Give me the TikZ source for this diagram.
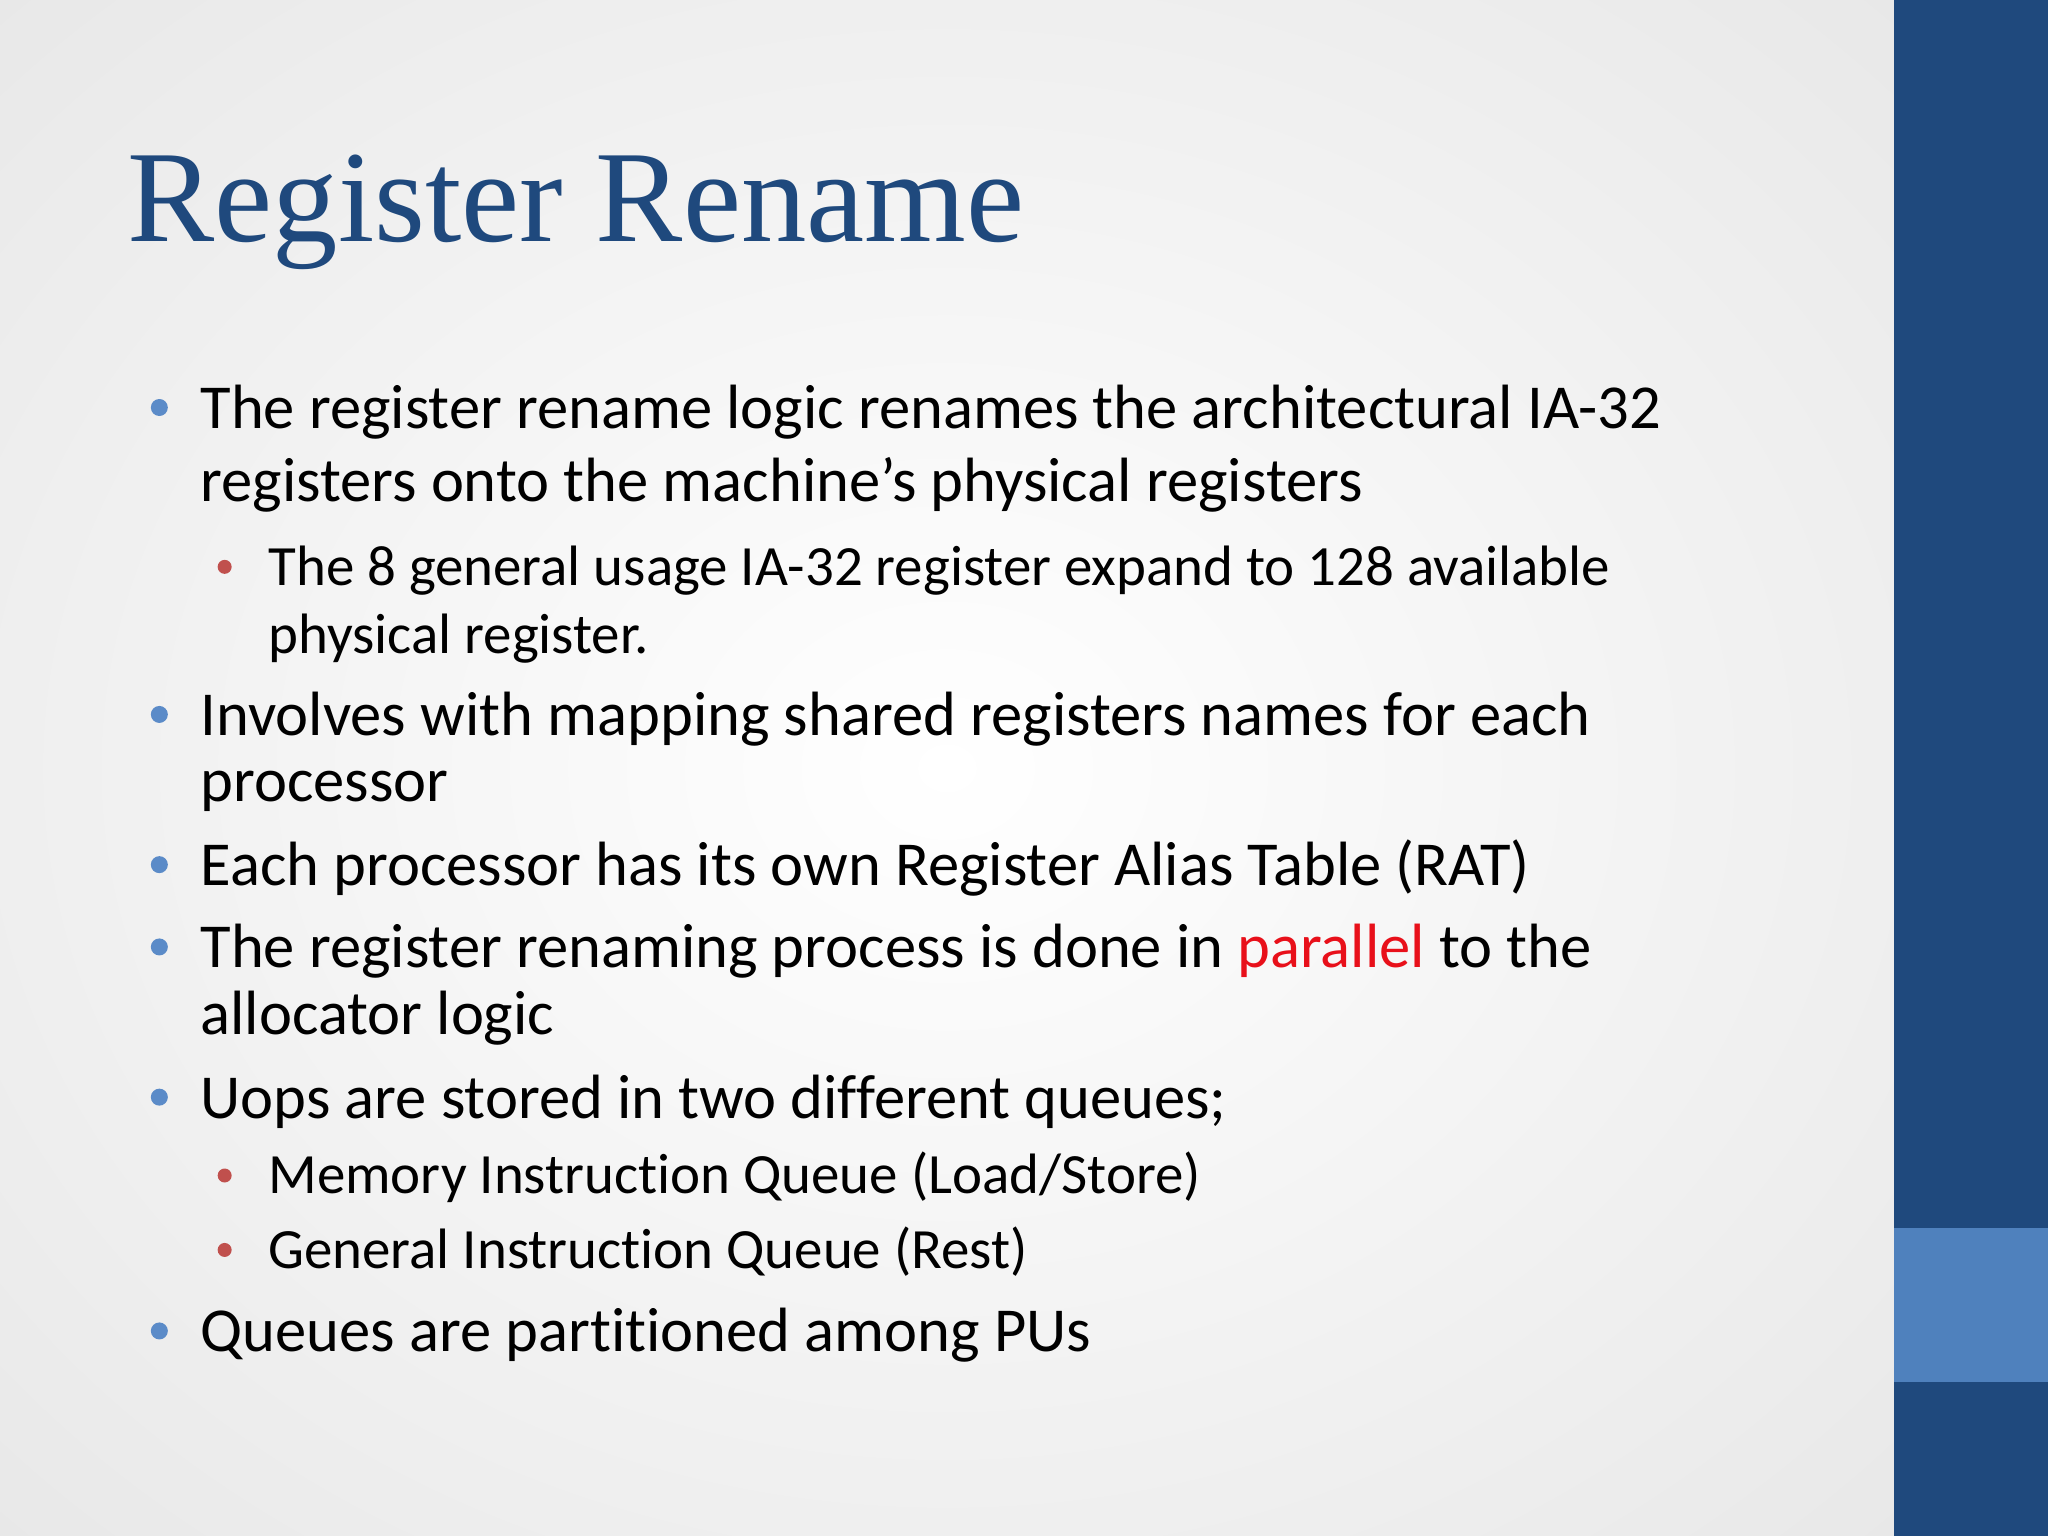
\documentclass[tikz,border=0pt]{standalone}
\usepackage{fontspec}
\setmainfont[Ligatures=NoCommon]{Carlito}
\newfontfamily\titlefont{Liberation Serif}
\definecolor{titleblue}{HTML}{1F497D}
\definecolor{bardark}{HTML}{1F497D}
\definecolor{barlight}{HTML}{4F81BD}
\definecolor{bulblue}{HTML}{5B8BC8}
\definecolor{bulred}{HTML}{C0504D}
\definecolor{pred}{HTML}{E8101A}
\begin{document}
\begin{tikzpicture}[x=0.01306cm,y=-0.01306cm,
  ln/.style={anchor=base west,inner sep=0,font=\fontsize{17.8}{21}\selectfont},
  sln/.style={anchor=base west,inner sep=0,font=\fontsize{16.2}{19}\selectfont},
  bb/.style={circle,fill=bulblue,inner sep=0,minimum size=0.17cm},
  rb/.style={circle,fill=bulred,inner sep=0,minimum size=0.14cm}]
\useasboundingbox (0,0) rectangle (1568,1176);
\shade[inner color=white,outer color=black!9] (-300,-250) rectangle (1750,1426);
\fill[bardark] (1450,0) rectangle (1568,1176);
\fill[barlight] (1450,940) rectangle (1568,1058);
\node[anchor=base west,inner sep=0,text=titleblue,font=\titlefont\fontsize{37.2}{42}\selectfont] (title) at (97,185) {Register Rename};
\node[bb] (b1) at (122,312) {};
\node[ln] (l1) at (153,328) {The register rename logic renames the architectural IA-32};
\node[ln] (l2) at (153,384) {registers onto the machine’s physical registers};
\node[rb] (s1) at (172,434) {};
\node[sln] (l3) at (205,448) {The 8 general usage IA-32 register expand to 128 available};
\node[sln] (l4) at (205,500) {physical register.};
\node[bb] (b2) at (122,547) {};
\node[ln] (l5) at (153,563) {Involves with mapping shared registers names for each};
\node[ln] (l6) at (153,614) {processor};
\node[bb] (b3) at (122,662) {};
\node[ln] (l7) at (153,678) {Each processor has its own Register Alias Table (RAT)};
\node[bb] (b4) at (122,725) {};
\node[ln] (l8) at (153,741) {The register renaming process is done in \textcolor{pred}{parallel} to the};
\node[ln] (l9) at (153,792) {allocator logic};
\node[bb] (b5) at (122,840) {};
\node[ln] (l10) at (153,856) {Uops are stored in two different queues;};
\node[rb] (s2) at (172,900) {};
\node[sln] (l11) at (205,914) {Memory Instruction Queue (Load/Store)};
\node[rb] (s3) at (172,957) {};
\node[sln] (l12) at (205,971) {General Instruction Queue (Rest)};
\node[bb] (b6) at (122,1019) {};
\node[ln] (l13) at (153,1035) {Queues are partitioned among PUs};
\end{tikzpicture}
\end{document}
